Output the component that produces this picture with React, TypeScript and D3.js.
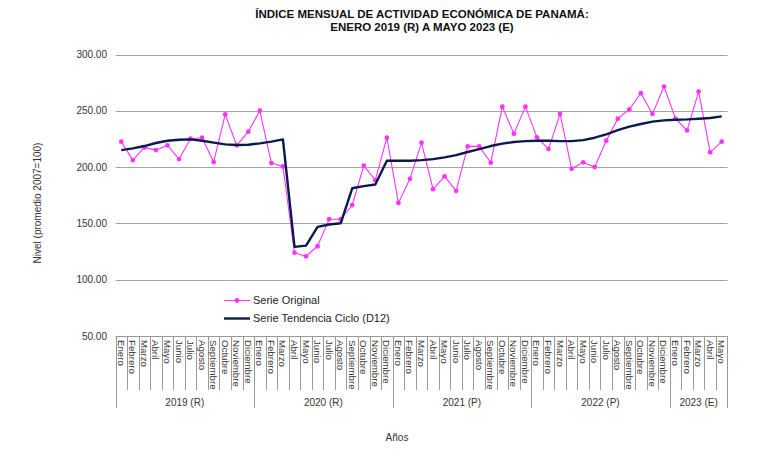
import React, { useRef, useEffect } from 'react';
import * as d3 from 'd3';

const monthNames = [
    'Enero', 'Febrero', 'Marzo', 'Abril', 'Mayo', 'Junio', 'Julio',
    'Agosto', 'Septiembre', 'Octubre', 'Noviembre', 'Diciembre',
];

const yearGroups = [
    { label: '2019 (R)', months: 12 },
    { label: '2020 (R)', months: 12 },
    { label: '2021 (P)', months: 12 },
    { label: '2022 (P)', months: 12 },
    { label: '2023 (E)', months: 5 },
];

const serieOriginal = [
    222.6, 206.2, 217.5, 215.1, 219.3, 207.1, 225.2, 226.1, 204.5, 246.9, 219.3, 231.5,
    250.1, 203.6, 200.6, 124.0, 120.8, 129.7, 153.7, 153.7, 166.3, 201.2, 188.4, 226.1,
    168.2, 189.6, 221.7, 180.4, 191.7, 178.9, 218.4, 218.4, 203.9, 253.7, 229.7, 253.7,
    226.4, 216.0, 247.2, 198.5, 204.2, 200.0, 223.4, 243.0, 251.3, 265.6, 247.2, 271.5,
    243.0, 232.6, 267.1, 213.1, 222.6,
];

const serieTendencia = [
    215.1, 216.6, 218.7, 221.4, 223.4, 224.3, 224.6, 223.4, 221.7, 220.2, 219.6, 219.9,
    221.1, 222.6, 224.6, 129.1, 130.3, 146.9, 149.0, 150.1, 181.2, 183.1, 184.6, 205.6,
    205.6, 205.6, 206.2, 207.1, 208.6, 210.7, 213.4, 216.0, 218.7, 220.8, 222.3, 223.1,
    223.4, 223.4, 223.1, 223.1, 224.0, 226.1, 229.1, 232.9, 235.9, 238.3, 240.4, 241.5,
    242.1, 242.4, 243.0, 243.6, 245.1,
];

const yTicks = [50, 100, 150, 200, 250, 300];

const App: React.FC = () => {
    const svgRef = useRef<SVGSVGElement>(null);

    const width = 780;
    const height = 466;
    const plot = { left: 115.5, right: 727.5, top: 54.5, bottom: 336 };

    useEffect(() => {
        if (!svgRef.current) return;
        const svg = d3.select(svgRef.current);
        svg.selectAll('*').remove();

        const font = '"Liberation Sans", Arial, sans-serif';

        // category labels, one per month
        const categories: { key: string; month: string }[] = [];
        yearGroups.forEach(yg => {
            for (let m = 0; m < yg.months; m++) {
                categories.push({ key: `${yg.label}-${m}`, month: monthNames[m] });
            }
        });

        const xScale = d3.scaleBand<string>()
            .domain(categories.map(c => c.key))
            .range([plot.left, plot.right]);

        const yScale = d3.scaleLinear()
            .domain([50, 300])
            .range([plot.bottom, plot.top]);

        const xc = (i: number) => (xScale(categories[i].key) as number) + xScale.bandwidth() / 2;

        // Title
        const title = svg.append('text')
            .attr('x', 422)
            .attr('text-anchor', 'middle')
            .attr('font-family', font)
            .attr('font-size', '11.5px')
            .attr('font-weight', 'bold')
            .attr('fill', '#111');
        title.append('tspan').attr('x', 422).attr('y', 18)
            .text('ÍNDICE MENSUAL DE ACTIVIDAD ECONÓMICA DE PANAMÁ:');
        title.append('tspan').attr('x', 422).attr('y', 30.5)
            .text('ENERO 2019 (R) A MAYO 2023 (E)');

        // Gridlines and y labels
        yTicks.forEach(t => {
            if (t !== 50) {
                svg.append('line')
                    .attr('x1', plot.left)
                    .attr('x2', plot.right)
                    .attr('y1', Math.round(yScale(t)) + 0.5)
                    .attr('y2', Math.round(yScale(t)) + 0.5)
                    .attr('stroke', '#a6a6a6')
                    .attr('stroke-width', 1);
            }
            svg.append('text')
                .attr('x', 107)
                .attr('y', yScale(t))
                .attr('dy', '0.35em')
                .attr('text-anchor', 'end')
                .attr('font-family', font)
                .attr('font-size', '10px')
                .attr('fill', '#333')
                .text(t.toFixed(2));
        });

        // Y axis title
        svg.append('text')
            .attr('transform', `translate(41,${203}) rotate(-90)`)
            .attr('text-anchor', 'middle')
            .attr('font-family', font)
            .attr('font-size', '10px')
            .attr('fill', '#333')
            .text('Nivel (promedio 2007=100)');

        // Multi-level category axis
        const axis = svg.append('g');
        axis.append('line')
            .attr('x1', plot.left)
            .attr('x2', plot.right)
            .attr('y1', plot.bottom + 0.5)
            .attr('y2', plot.bottom + 0.5)
            .attr('stroke', '#9a9a9a');

        const monthTickBottom = 390;
        const yearTickBottom = 408;

        let idx = 0;
        const yearStarts: number[] = [];
        yearGroups.forEach(yg => {
            yearStarts.push(idx);
            idx += yg.months;
        });

        categories.forEach((c, i) => {
            const x0 = Math.round(xScale(c.key) as number) + 0.5;
            const isYearStart = yearStarts.includes(i);
            axis.append('line')
                .attr('x1', x0).attr('x2', x0)
                .attr('y1', plot.bottom)
                .attr('y2', isYearStart ? yearTickBottom : monthTickBottom)
                .attr('stroke', '#9a9a9a');

            axis.append('text')
                .attr('transform', `translate(${xc(i) - 3.5},${plot.bottom + 4}) rotate(90)`)
                .attr('font-family', font)
                .attr('font-size', '9.7px')
                .attr('fill', '#333')
                .text(c.month);
        });
        axis.append('line')
            .attr('x1', plot.right).attr('x2', plot.right)
            .attr('y1', plot.bottom).attr('y2', yearTickBottom)
            .attr('stroke', '#9a9a9a');

        yearGroups.forEach((yg, gi) => {
            const s = yearStarts[gi];
            const e = s + yg.months - 1;
            const x0 = xScale(categories[s].key) as number;
            const x1 = (xScale(categories[e].key) as number) + xScale.bandwidth();
            axis.append('text')
                .attr('x', (x0 + x1) / 2)
                .attr('y', 402)
                .attr('dy', '0.35em')
                .attr('text-anchor', 'middle')
                .attr('font-family', font)
                .attr('font-size', '10px')
                .attr('fill', '#333')
                .text(yg.label);
        });

        svg.append('text')
            .attr('x', 397)
            .attr('y', 437)
            .attr('dy', '0.35em')
            .attr('text-anchor', 'middle')
            .attr('font-family', font)
            .attr('font-size', '10px')
            .attr('fill', '#333')
            .text('Años');

        // Series lines
        const line = d3.line<number>()
            .x((_, i) => xc(i))
            .y(d => yScale(d));

        svg.append('path')
            .datum(serieOriginal)
            .attr('d', line)
            .attr('fill', 'none')
            .attr('stroke', '#ff33ff')
            .attr('stroke-width', 1.1);

        svg.append('g')
            .selectAll('circle')
            .data(serieOriginal)
            .join('circle')
            .attr('cx', (_, i) => xc(i))
            .attr('cy', d => yScale(d))
            .attr('r', 2.4)
            .attr('fill', '#ff33ff');

        svg.append('path')
            .datum(serieTendencia)
            .attr('d', line)
            .attr('fill', 'none')
            .attr('stroke', '#0b1a4d')
            .attr('stroke-width', 2.4)
            .attr('stroke-linejoin', 'round');

        // Legend
        const legend = svg.append('g').attr('transform', 'translate(224,0)');
        legend.append('line')
            .attr('x1', 0).attr('x2', 26)
            .attr('y1', 300.5).attr('y2', 300.5)
            .attr('stroke', '#ff33ff').attr('stroke-width', 1.1);
        legend.append('circle')
            .attr('cx', 13).attr('cy', 300.5).attr('r', 2.4).attr('fill', '#ff33ff');
        legend.append('text')
            .attr('x', 29).attr('y', 300.5).attr('dy', '0.35em')
            .attr('font-family', font).attr('font-size', '11px').attr('fill', '#222')
            .text('Serie Original');
        legend.append('line')
            .attr('x1', 0).attr('x2', 26)
            .attr('y1', 318.5).attr('y2', 318.5)
            .attr('stroke', '#0b1a4d').attr('stroke-width', 2.4);
        legend.append('text')
            .attr('x', 29).attr('y', 318.5).attr('dy', '0.35em')
            .attr('font-family', font).attr('font-size', '11px').attr('fill', '#222')
            .text('Serie Tendencia Ciclo (D12)');
    }, []);

    return (
        <svg
            ref={svgRef}
            width={width}
            height={height}
            style={{ position: 'absolute', left: 0, top: 0, background: '#fff' }}
        />
    );
};

export default App;
